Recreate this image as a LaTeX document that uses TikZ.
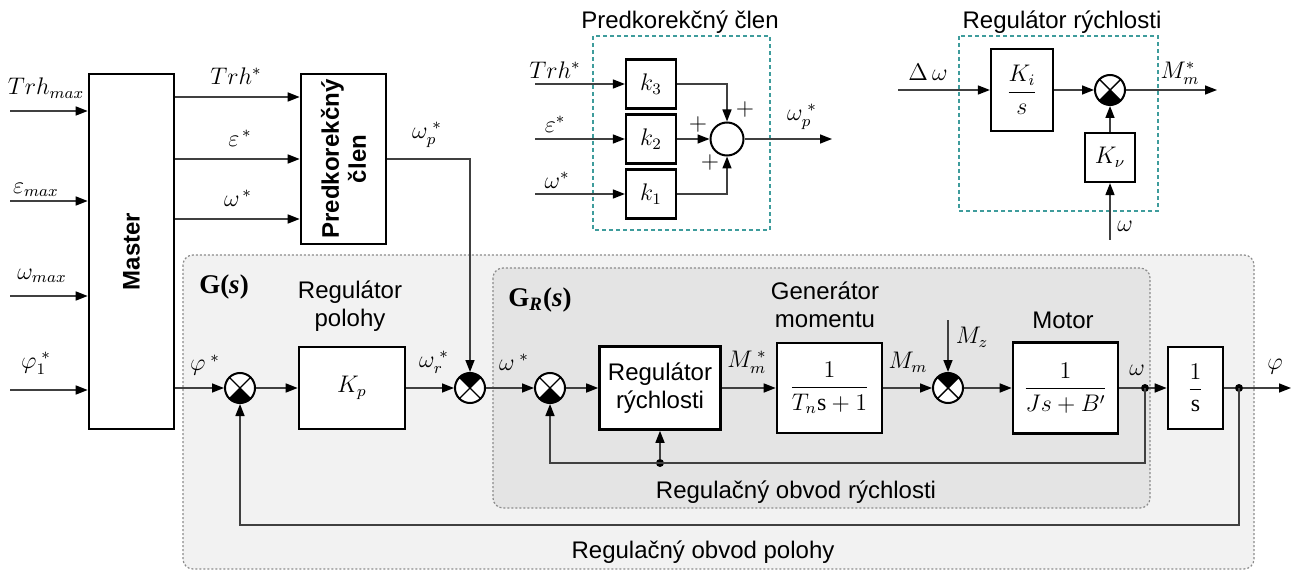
\documentclass[tikz,border=0pt]{standalone}
\usepackage{amsmath,amssymb}
\usepackage{fontspec}
\setmainfont{Liberation Sans}
\newfontfamily\serifb{Liberation Serif}
\usepackage{tikz}
\usetikzlibrary{arrows.meta,positioning,calc}
\definecolor{TealDash}{HTML}{3E9C9C}
\definecolor{OuterGray}{HTML}{F2F2F2}
\definecolor{InnerGray}{HTML}{E4E4E4}

\tikzset{
  blk/.style={draw,line width=1.3pt,fill=white,inner sep=1pt,align=center},
  wire/.style={line width=0.75pt,draw=black!75},
  arr/.style={wire,-{Triangle[length=6pt,width=4.5pt,color=black]}},
  sumq/.style={circle,draw,line width=1pt,fill=white,minimum size=15pt,inner sep=0pt,
    path picture={
      \fill[black] (path picture bounding box.center) -- ++(#1-45:9pt)
        arc[start angle=#1-45,end angle=#1+45,radius=9pt] -- cycle;
      \draw[black,line width=0.7pt] (path picture bounding box.center) ++(45:9pt) -- ++(225:18pt)
        (path picture bounding box.center) ++(135:9pt) -- ++(-45:18pt);}},
  sumo/.style={circle,draw,line width=1pt,fill=white,minimum size=16.5pt,inner sep=0pt},
  dot/.style={circle,fill,inner sep=0pt,minimum size=4pt},
  lbl/.style={inner sep=0pt},
  region/.style={draw=black!45,dash pattern=on 1pt off 1pt,line width=0.6pt,rounded corners=5pt},
  subbox/.style={draw=TealDash,dash pattern=on 2pt off 1.5pt,line width=0.8pt},
}
\newcommand{\rms}{\text{\serifb s}}

\begin{document}
\begin{tikzpicture}[x=0.5pt,y=-0.5pt,font=\fontsize{12}{14}\selectfont]
  \useasboundingbox (0,0) rectangle (1295,572);

  % oblasti
  \draw[region,fill=OuterGray] (183,255) rectangle (1254,569);
  \draw[region,fill=InnerGray] (493,268) rectangle (1150,508);
  \draw[subbox] (593,36) rectangle (770,230);
  \draw[subbox] (959,36) rectangle (1158,211);

  % master a predkorekcia
  \node[blk,minimum width=42.5pt,minimum height=177.5pt] (master) at (131.5,251.5) {};
  \node[lbl,rotate=90,font=\bfseries\fontsize{12}{14}\selectfont] at (master) {Master};
  \node[blk,minimum width=42.5pt,minimum height=85pt] (pred) at (343.5,159) {};
  \node[lbl,rotate=90,align=center,font=\bfseries\fontsize{12}{13.5}\selectfont] at (pred) {Predkorekčný\\člen};

  \coordinate (inTrh) at (10,111);
  \coordinate (inEps) at (10,201);
  \coordinate (inOm) at (10,296);
  \coordinate (inPhi) at (10,390);
  \foreach \c in {inTrh,inEps,inOm,inPhi}
    \draw[arr] (\c) -- (\c -| master.west);

  \coordinate (yTrh) at (0,97);
  \coordinate (yEps) at (0,159);
  \coordinate (yOm) at (0,219);
  \foreach \c in {yTrh,yEps,yOm}
    \draw[arr] (master.east |- \c) -- (pred.west |- \c);

  % hlavna vetva
  \node[sumq=-90] (s1) at (240,388) {};
  \node[blk,minimum width=53pt,minimum height=41pt] (kp) at (352,388) {$K_p$};
  \node[sumq=90] (s2) at (470,388) {};
  \node[sumq=-90] (s3) at (550,388) {};
  \node[blk,minimum width=60.5pt,minimum height=41.5pt] (regw) at (660,388) {Regulátor\\rýchlosti};
  \node[blk,minimum width=52.5pt,minimum height=45pt] (gen) at (829.5,388) {$\dfrac{1}{T_n\rms+1}$};
  \node[sumq=90] (s4) at (948,388) {};
  \node[blk,minimum width=52.5pt,minimum height=45.5pt] (mot) at (1065.5,388) {$\dfrac{1}{Js+B'}$};
  \node[dot] (dw) at (1145,388) {};
  \node[blk,minimum width=27.5pt,minimum height=41pt] (integ) at (1195.5,388) {$\dfrac{1}{\rms}$};
  \node[dot] (dphi) at (1239,388) {};
  \coordinate (phiout) at (1291,388);
  \coordinate (mz) at (948,320);
  \node[dot] (fbdot) at (660,463) {};
  \coordinate (fbp) at (1239,525);

  \draw[arr] (master.east |- s1) -- (s1);
  \draw[arr] (s1) -- (kp);
  \draw[arr] (kp) -- (s2);
  \draw[arr] (s2) -- (s3);
  \draw[arr] (s3) -- (regw);
  \draw[arr] (regw) -- (gen);
  \draw[arr] (gen) -- (s4);
  \draw[arr] (s4) -- (mot);
  \draw[wire] (mot) -- (dw);
  \draw[arr] (dw) -- (integ);
  \draw[wire] (integ) -- (dphi);
  \draw[arr] (dphi) -- (phiout);
  \draw[arr] (mz) -- (s4);
  \draw[arr] (pred.east) -| (s2.north);
  \draw[arr] (dw.center) |- (fbdot.center) -| (s3.south);
  \draw[arr] (fbdot) -- (regw.south);
  \draw[arr] (dphi.center) -- (fbp) -| (s1.south);

  % predkorekcny clen - detail
  \node[blk,line width=1.1pt,minimum width=25pt,minimum height=24.5pt] (k3) at (651,84) {$k_3$};
  \node[blk,line width=1.1pt,minimum width=25pt,minimum height=24.5pt] (k2) at (651,139) {$k_2$};
  \node[blk,line width=1.1pt,minimum width=25pt,minimum height=24.5pt] (k1) at (651,194) {$k_1$};
  \node[sumo] (psum) at (727,139) {};
  \coordinate (pin3) at (535,84);
  \coordinate (pin2) at (535,139);
  \coordinate (pin1) at (535,194);
  \coordinate (pout) at (832,139);
  \draw[arr] (pin3) -- (k3);
  \draw[arr] (pin2) -- (k2);
  \draw[arr] (pin1) -- (k1);
  \draw[arr] (k3) -| (psum.north);
  \draw[arr] (k2) -- (psum);
  \draw[arr] (k1) -| (psum.south);
  \draw[arr] (psum) -- (pout);

  % regulator rychlosti - detail
  \node[blk,line width=1.1pt,minimum width=31pt,minimum height=41pt] (ki) at (1022,90) {$\dfrac{K_i}{s}$};
  \node[sumq=-90] (rsum) at (1110,90) {};
  \node[blk,line width=1.1pt,minimum width=25pt,minimum height=24.5pt] (kv) at (1110,157.5) {$K_\nu$};
  \coordinate (rin) at (898,90);
  \coordinate (rw) at (1110,240);
  \coordinate (rout) at (1217,90);
  \draw[arr] (rin) -- (ki);
  \draw[arr] (ki) -- (rsum);
  \draw[arr] (kv) -- (rsum);
  \draw[arr] (rw) -- (kv);
  \draw[arr] (rsum) -- (rout);

  % popisy
  \node[lbl] at (46,88) {$Trh_{max}$};
  \node[lbl] at (36,190) {$\varepsilon_{max}$};
  \node[lbl] at (42,276) {$\omega_{max}$};
  \node[lbl] at (36,363) {$\varphi_{1}^{\;*}$};
  \node[lbl] at (236,76) {$Trh^{*}$};
  \node[lbl] at (240,138) {$\varepsilon^{\,*}$};
  \node[lbl] at (238,198) {$\omega^{\,*}$};
  \node[lbl] at (427,135) {$\omega_p^{\;*}$};
  \node[lbl] at (205,365) {$\varphi^{\;*}$};
  \node[lbl] at (434,362) {$\omega_r^{\;*}$};
  \node[lbl] at (514,362) {$\omega^{\;*}$};
  \node[lbl] at (747,362) {$M_m^{\;*}$};
  \node[lbl] at (908,362) {$M_m$};
  \node[lbl] at (972,337) {$M_z$};
  \node[lbl] at (1137,370) {$\omega$};
  \node[lbl] at (1275,367) {$\varphi$};

  \node[lbl,font=\serifb\bfseries\fontsize{13.5}{15}\selectfont] at (224,287) {G(\textit{s})};
  \node[lbl,font=\serifb\bfseries\fontsize{13.5}{15}\selectfont] at (540,300) {G\textsubscript{\textit{R}}(\textit{s})};
  \node[lbl,align=center] at (350,306) {Regulátor\\polohy};
  \node[lbl,align=center] at (825,305) {Generátor\\momentu};
  \node[lbl] at (1063,320) {Motor};
  \node[lbl] at (796,492) {Regulačný obvod rýchlosti};
  \node[lbl] at (703,552) {Regulačný obvod polohy};

  \node[lbl] at (680,22) {Predkorekčný člen};
  \node[lbl] at (555,70) {$Trh^{*}$};
  \node[lbl] at (555,124) {$\varepsilon^{*}$};
  \node[lbl] at (557,180) {$\omega^{*}$};
  \node[lbl] at (745,110) {$+$};
  \node[lbl] at (698,125) {$+$};
  \node[lbl] at (710,163) {$+$};
  \node[lbl] at (802,117) {$\omega_p^{\;*}$};

  \node[lbl] at (1062,22) {Regulátor rýchlosti};
  \node[lbl] at (928,72) {$\Delta\,\omega$};
  \node[lbl] at (1180,73) {$M_m^{*}$};
  \node[lbl] at (1125,226) {$\omega$};
\end{tikzpicture}
\end{document}
